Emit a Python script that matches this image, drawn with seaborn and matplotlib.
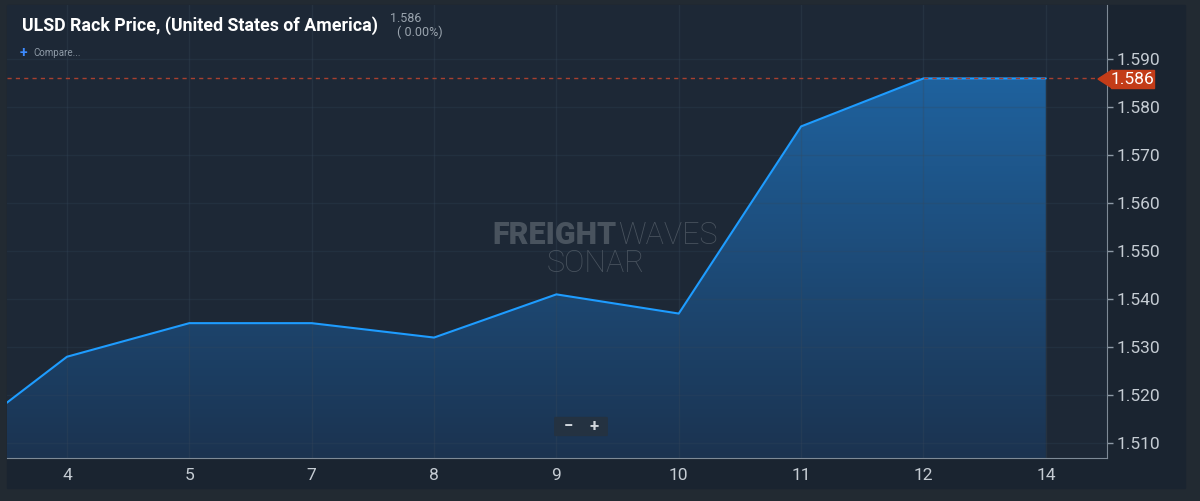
import numpy as np
import pandas as pd
import matplotlib
matplotlib.use('Agg')
import matplotlib.pyplot as plt
import seaborn as sns
from matplotlib.patches import Polygon, FancyBboxPatch

# dados (dia do mês e preço)
dias = ['3', '4', '5', '7', '8', '9', '10', '11', '12', '14']
precos = [1.5085, 1.528, 1.535, 1.535, 1.532, 1.541, 1.537, 1.576, 1.586, 1.586]
ultimo = 1.586
variacao = '( 0.00%)'
yticks = [1.510, 1.520, 1.530, 1.540, 1.550, 1.560, 1.570, 1.580, 1.590]

df = pd.DataFrame({'idx': np.arange(len(dias)) - 1, 'dia': dias, 'preco': precos})

sns.set_style('dark')
plt.rcParams['font.family'] = ['Roboto', 'DejaVu Sans']

BG = '#1d2836'
fig = plt.figure(figsize=(12, 5.01), dpi=100, facecolor='#222a32')
# painel externo
fig.patches.append(plt.Rectangle((7 / 1200, 13 / 501), 1178 / 1200, 483 / 501,
                                 transform=fig.transFigure, color='#1a2430', zorder=-5))
ax = fig.add_axes([7 / 1200, 43 / 501, 1100 / 1200, 453 / 501])
ax.set_facecolor(BG)

ymin, ymax = 1.5069, 1.6013

# grade (por cima do preenchimento, bem suave)
for x in df['idx'][1:]:
    ax.axvline(x, color='#3a4a5a', lw=1, alpha=0.3, zorder=2.5)
for y in yticks:
    ax.axhline(y, color='#34485c', lw=1, alpha=0.25, zorder=2.5)

# preenchimento com gradiente
verts = [(df['idx'].iloc[0], ymin)] + list(zip(df['idx'], df['preco'])) + [(df['idx'].iloc[-1], ymin)]
poly = Polygon(verts, closed=True, facecolor='none', edgecolor='none')
ax.add_patch(poly)
grad = np.linspace(0, 1, 256).reshape(-1, 1)
cmap = matplotlib.colors.LinearSegmentedColormap.from_list('g', ['#1b3350', '#1f63a0'])
img = ax.imshow(grad, extent=[-1, 8, ymin, 1.588], origin='lower', aspect='auto',
                cmap=cmap, zorder=2)
img.set_clip_path(poly)
ax.set_xlim(-0.49, 8.5)
ax.set_ylim(ymin, ymax)

sns.lineplot(data=df, x='idx', y='preco', color='#1e9cff', lw=1.5, ax=ax, zorder=3)

# linha do último preço
ax.axhline(ultimo, color='#a8402f', lw=1, ls=(0, (3, 3)), zorder=4)

ax.yaxis.tick_right()
ax.set_yticks(yticks)
ax.set_yticklabels([f'{v:.3f}' for v in yticks])
ax.set_xticks(df['idx'][1:])
ax.set_xticklabels(df['dia'][1:])
ax.tick_params(axis='both', colors='#8e9aa6', labelcolor='#c5ccd3', labelsize=12.5,
               length=4, width=1, direction='out', pad=3)
ax.set_xlabel('')
ax.set_ylabel('')
for s in ['top', 'left']:
    ax.spines[s].set_visible(False)
ax.spines['right'].set_color('#7e8a96')
ax.spines['bottom'].set_color('#7e8a96')

# rótulo do último preço
yp = 1 - 79 / 501
tri = Polygon([(1098 / 1200, yp), (1112 / 1200, yp + 9 / 501), (1112 / 1200, yp - 9 / 501)],
              closed=True, transform=fig.transFigure, color='#c33c18', zorder=5)
fig.patches.append(tri)
fig.patches.append(plt.Rectangle((1111 / 1200, yp - 9 / 501), 43 / 1200, 18 / 501,
                                 transform=fig.transFigure, color='#c33c18', zorder=5))
fig.text(1132 / 1200, yp, f'{ultimo:.3f}', color='white', fontsize=12.5,
         ha='center', va='center', zorder=6)

# título e cabeçalho
fig.text(22 / 1200, 1 - 26 / 501, 'ULSD Rack Price, (United States of America)', color='white',
         fontsize=12.8, fontweight='bold', va='center')
fig.text(390 / 1200, 1 - 19 / 501, '1.586', color='#9aa4ae', fontsize=9, va='center')
fig.text(397 / 1200, 1 - 32 / 501, variacao, color='#9aa4ae', fontsize=9, va='center')
fig.text(20 / 1200, 1 - 53 / 501, '+', color='#3d8bff', fontsize=10, va='center', fontweight='bold')
fig.text(33 / 1200, 1 - 53 / 501, 'Compare...', color='#8e9aa6', fontsize=7, va='center')

# marca d'água
fig.text(617 / 1200, 1 - 235 / 501, 'FREIGHT', color='#4e5863', fontsize=22, fontweight='black',
         va='center', ha='right', alpha=0.9, zorder=2)
fig.text(618 / 1200, 1 - 235 / 501, 'WAVES', color='#4e5863', fontsize=22, fontweight='light',
         va='center', ha='left', alpha=0.9, zorder=2)
fig.text(596 / 1200, 1 - 263 / 501, 'SONAR', color='#4e5863', fontsize=22, fontweight='light',
         va='center', ha='center', alpha=0.9, zorder=2)

# botões de zoom
fig.patches.append(FancyBboxPatch((556 / 1200, 1 - 435 / 501), 50 / 1200, 17 / 501,
                                  boxstyle='round,pad=0.001', transform=fig.transFigure,
                                  color='#243241', zorder=5))
fig.text(568 / 1200, 1 - 426 / 501, '−', color='#d0d6dc', fontsize=12, fontweight='bold',
         ha='center', va='center', zorder=6)
fig.text(594 / 1200, 1 - 426 / 501, '+', color='#d0d6dc', fontsize=12, fontweight='bold',
         ha='center', va='center', zorder=6)

fig.savefig('out.png', dpi=100, facecolor=fig.get_facecolor())
